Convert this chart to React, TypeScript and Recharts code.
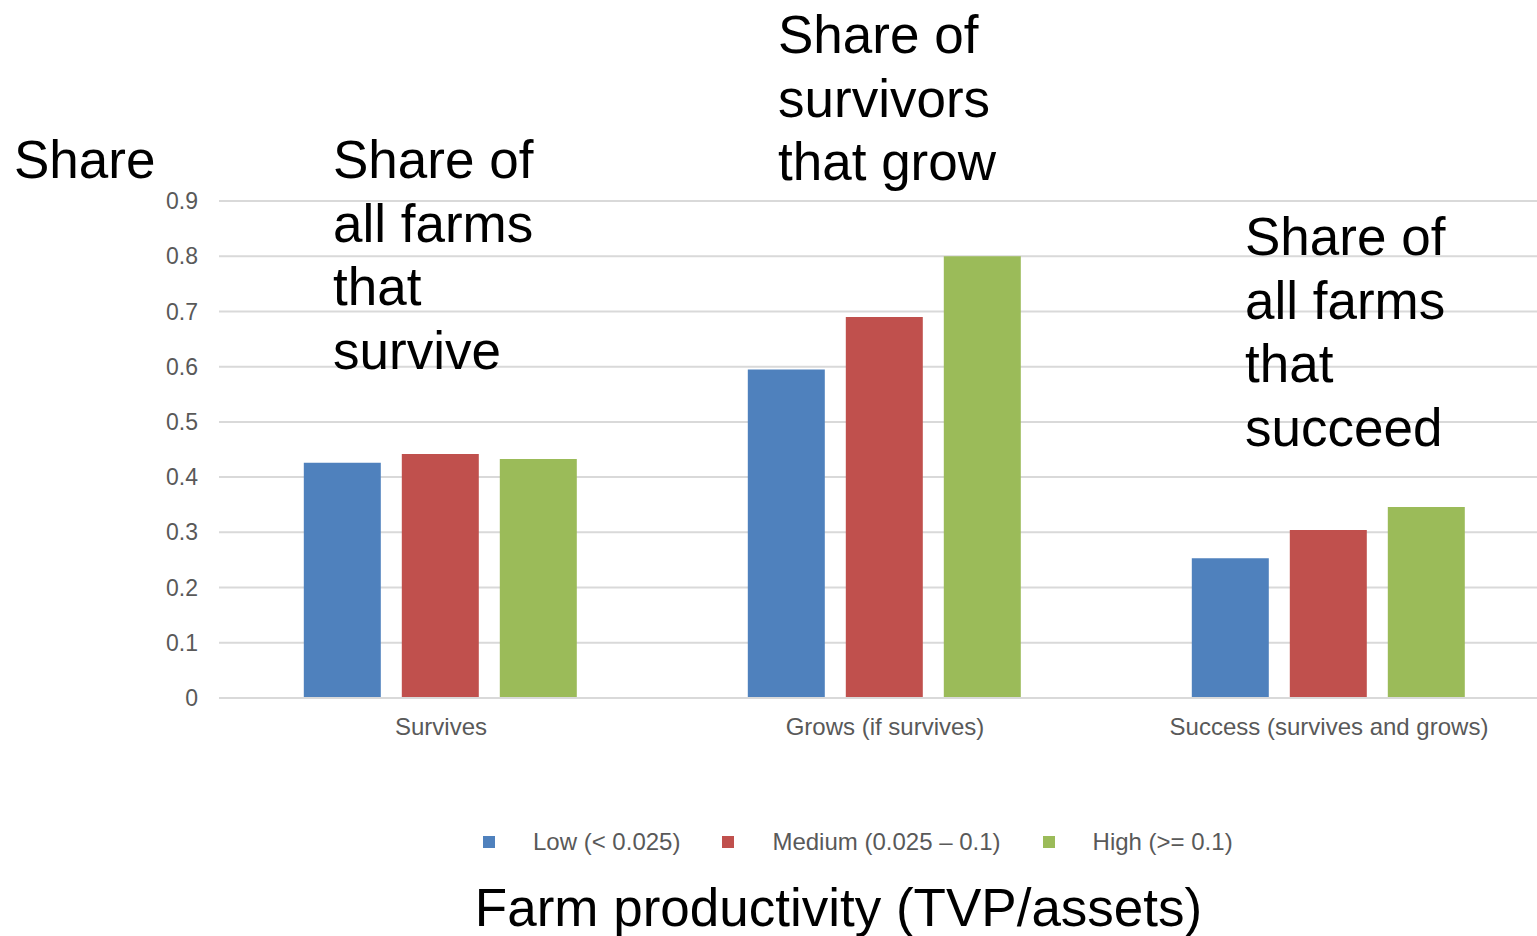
import React from "react";
import { BarChart, Bar, XAxis, YAxis, CartesianGrid, Legend } from "recharts";

// Outcome categories along the x axis
const categories = ["Survives", "Grows (if survives)", "Success (survives and grows)"];

// Share of farms per productivity group
const lowValues = [0.426, 0.595, 0.253];
const mediumValues = [0.442, 0.69, 0.304];
const highValues = [0.433, 0.8, 0.346];

const seriesNames = ["Low (< 0.025)", "Medium (0.025 \u2013 0.1)", "High (>= 0.1)"];
const seriesColors = ["#4F81BD", "#C0504D", "#9BBB59"];

const yTicks = [0, 0.1, 0.2, 0.3, 0.4, 0.5, 0.6, 0.7, 0.8, 0.9];

const data = categories.map((name, i) => ({
  name,
  low: lowValues[i],
  medium: mediumValues[i],
  high: highValues[i],
}));

const seriesKeys = ["low", "medium", "high"];

const FONT = "'Liberation Sans', Arial, sans-serif";
const W = 1537;
const H = 936;
// the plot area runs a little past the right edge of the frame
const CHART_W = 1551;

const LegendContent = () => (
  <div style={{ display: "flex", alignItems: "center", fontFamily: FONT, fontSize: 24, color: "#595959", whiteSpace: "nowrap" }}>
    {seriesNames.map((n, i) => (
      <div key={n} style={{ display: "flex", alignItems: "center", marginRight: 42 }}>
        <span style={{ display: "inline-block", width: 12, height: 12, background: seriesColors[i], marginRight: 38 }} />
        <span>{n}</span>
      </div>
    ))}
  </div>
);

// Big annotation text blocks (baseline positions, 53px type)
const notes: { x: number; y: number; lines: string[] }[] = [
  { x: 14, y: 178, lines: ["Share"] },
  { x: 333, y: 178, lines: ["Share of", "all farms", "that", "survive"] },
  { x: 778, y: 53, lines: ["Share of", "survivors", "that grow"] },
  { x: 1245, y: 255, lines: ["Share of", "all farms", "that", "succeed"] },
];

export default function App() {
  return (
    <div style={{ position: "absolute", left: 0, top: 0, width: W, height: H, background: "#fff", overflow: "hidden" }}>
      <BarChart
        width={CHART_W}
        height={H}
        data={data}
        margin={{ top: 201, right: 0, bottom: 208, left: 0 }}
        barCategoryGap="19.1%"
        barGap={21}
      >
        <CartesianGrid vertical={false} stroke="#d9d9d9" strokeWidth={2} />
        <XAxis
          dataKey="name"
          height={30}
          tickLine={false}
          axisLine={{ stroke: "#d9d9d9", strokeWidth: 2 }}
          tickSize={6}
          tickMargin={14}
          tick={{ fill: "#595959", fontSize: 24, fontFamily: FONT }}
          interval={0}
        />
        <YAxis
          width={219}
          domain={[0, 0.9]}
          ticks={yTicks}
          tickFormatter={(v: number) => String(Math.round(v * 10) / 10)}
          axisLine={false}
          tickLine={false}
          tickSize={6}
          tickMargin={15}
          tick={{ fill: "#595959", fontSize: 23, fontFamily: FONT }}
        />
        <Legend
          verticalAlign="middle"
          align="center"
          content={<LegendContent />}
          wrapperStyle={{ left: 483, top: 828, width: "auto", height: "auto" }}
        />
        {seriesKeys.map((k, i) => (
          <Bar key={k} dataKey={k} name={seriesNames[i]} fill={seriesColors[i]} isAnimationActive={false} />
        ))}
      </BarChart>
      <svg
        width={W}
        height={H}
        style={{ position: "absolute", left: 0, top: 0, pointerEvents: "none" }}
      >
        {notes.map((n, i) => (
          <text key={i} x={n.x} y={n.y} fontFamily={FONT} fontSize={53} fill="#000">
            {n.lines.map((l, j) => (
              <tspan key={j} x={n.x} dy={j === 0 ? 0 : 63.5}>
                {l}
              </tspan>
            ))}
          </text>
        ))}
        <text x={838.5} y={926} textAnchor="middle" fontFamily={FONT} fontSize={53} fill="#000">
          Farm productivity (TVP/assets)
        </text>
      </svg>
    </div>
  );
}
